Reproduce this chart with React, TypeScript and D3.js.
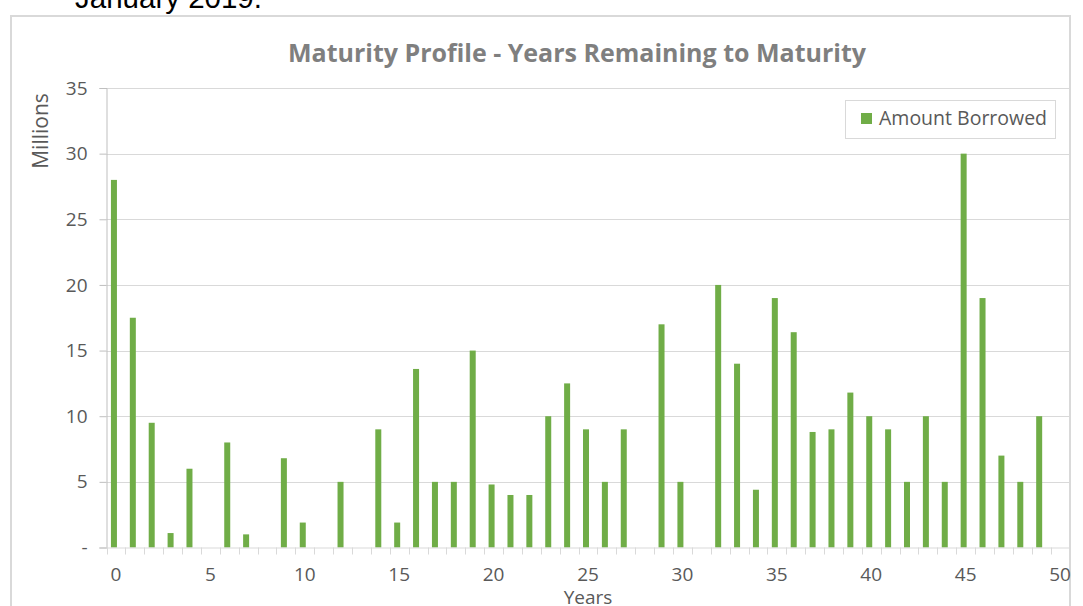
import React, { useRef, useEffect } from "react";
import * as d3 from "d3";

// years remaining to maturity (category axis 0..50)
const years = d3.range(0, 51);
// amount borrowed, millions
const amounts = [
  28, 17.5, 9.5, 1.1, 6, 0, 8, 1, 0, 6.8,
  1.9, 0, 5, 0, 9, 1.9, 13.6, 5, 5, 15,
  4.8, 4, 4, 10, 12.5, 9, 5, 9, 0, 17,
  5, 0, 20, 14, 4.4, 19, 16.4, 8.8, 9, 11.8,
  10, 9, 5, 10, 5, 30, 19, 7, 5, 10,
  0,
];
const yTicks = [0, 5, 10, 15, 20, 25, 30, 35];
const xLabels = [0, 5, 10, 15, 20, 25, 30, 35, 40, 45, 50];
const seriesName = "Amount Borrowed";

const W = 1083;
const H = 606;
const FONT = "'Open Sans', 'Noto Sans', sans-serif";
const GREEN = "#70ad47";
const GRID = "#d9d9d9";
const TXT = "#595959";

function MaturityChart() {
  const svgRef = useRef<SVGSVGElement>(null);

  useEffect(() => {
    const svg = d3.select(svgRef.current);
    svg.selectAll("*").remove();

    const left = 106.5;
    const right = 1069.5;
    const top = 88;
    const bottom = 547.5;

    const x = d3.scaleBand<number>().domain(years).range([left, right]).paddingInner(0);
    const y = d3.scaleLinear().domain([0, 35]).range([bottom, top]);
    const barW = 6;
    const barShift = -2;

    // page heading remnant
    svg.append("text")
      .attr("x", 75).attr("y", 8)
      .attr("font-family", "'Liberation Sans', Arial, sans-serif")
      .attr("font-size", 29.5)
      .attr("fill", "#000")
      .text("January 2019.");

    // chart area border
    svg.append("rect")
      .attr("x", 11).attr("y", 16)
      .attr("width", 1059).attr("height", 620)
      .attr("fill", "#fff")
      .attr("stroke", GRID).attr("stroke-width", 2);

    // gridlines
    svg.append("g")
      .selectAll("line")
      .data(yTicks.filter((t) => t > 0))
      .join("line")
      .attr("x1", left).attr("x2", right)
      .attr("y1", (d) => Math.round(y(d)) + 0.5)
      .attr("y2", (d) => Math.round(y(d)) + 0.5)
      .attr("stroke", GRID).attr("stroke-width", 1);

    // y axis
    const yAxis = d3.axisLeft(y)
      .tickValues(yTicks)
      .tickSize(7)
      .tickPadding(12)
      .tickFormat((d) => (+d === 0 ? "-" : String(d)));
    const gy = svg.append("g").attr("transform", `translate(${left},0)`).call(yAxis);
    gy.select(".domain").attr("stroke", "#bfbfbf");
    gy.selectAll(".tick line").attr("stroke", "#bfbfbf");
    gy.selectAll("text")
      .attr("font-family", FONT).attr("font-size", 19).attr("fill", TXT);

    // bars
    svg.append("g")
      .selectAll("rect")
      .data(amounts)
      .join("rect")
      .attr("x", (d, i) => (x(years[i]) as number) + x.bandwidth() / 2 - barW / 2 + barShift)
      .attr("y", (d) => y(d))
      .attr("width", barW)
      .attr("height", (d) => bottom - y(d))
      .attr("fill", GREEN);

    // x axis line and boundary ticks
    const gx = svg.append("g");
    gx.append("line")
      .attr("x1", left - 7).attr("x2", right)
      .attr("y1", bottom + 0.5).attr("y2", bottom + 0.5)
      .attr("stroke", GRID);
    gx.selectAll(".xt")
      .data([...years.map((v) => x(v) as number), right])
      .join("line")
      .attr("class", "xt")
      .attr("x1", (d) => Math.round(d) + 0.5).attr("x2", (d) => Math.round(d) + 0.5)
      .attr("y1", bottom).attr("y2", bottom + 7)
      .attr("stroke", GRID);
    gx.selectAll(".xl")
      .data(xLabels)
      .join("text")
      .attr("class", "xl")
      .attr("x", (d) => (x(d) as number) + x.bandwidth() / 2)
      .attr("y", bottom + 33)
      .attr("text-anchor", "middle")
      .attr("font-family", FONT).attr("font-size", 19).attr("fill", TXT)
      .text((d) => d);

    // title
    svg.append("text")
      .attr("x", 577).attr("y", 62)
      .attr("text-anchor", "middle")
      .attr("font-family", FONT).attr("font-weight", 700)
      .attr("font-size", 25).attr("fill", "#7f7f7f")
      .text("Maturity Profile - Years Remaining to Maturity");

    // axis titles
    svg.append("text")
      .attr("transform", "translate(48,131) rotate(-90)")
      .attr("text-anchor", "middle")
      .attr("font-family", FONT).attr("font-size", 21).attr("fill", TXT)
      .text("Millions");
    svg.append("text")
      .attr("x", 588).attr("y", 604)
      .attr("text-anchor", "middle")
      .attr("font-family", FONT).attr("font-size", 19).attr("fill", TXT)
      .text("Years");

    // legend
    const lg = svg.append("g").attr("transform", "translate(845,100)");
    lg.append("rect")
      .attr("x", 0.5).attr("y", 0.5).attr("width", 210).attr("height", 38)
      .attr("fill", "#fff").attr("stroke", GRID);
    lg.append("rect")
      .attr("x", 16).attr("y", 13).attr("width", 11).attr("height", 11)
      .attr("fill", GREEN);
    lg.append("text")
      .attr("x", 34).attr("y", 25)
      .attr("font-family", FONT).attr("font-size", 19.5).attr("fill", TXT)
      .text(seriesName);
  }, []);

  return (
    <svg
      ref={svgRef}
      width={W}
      height={H}
      style={{ position: "absolute", left: 0, top: 0, background: "#fff" }}
    />
  );
}

export default function App() {
  return <MaturityChart />;
}
